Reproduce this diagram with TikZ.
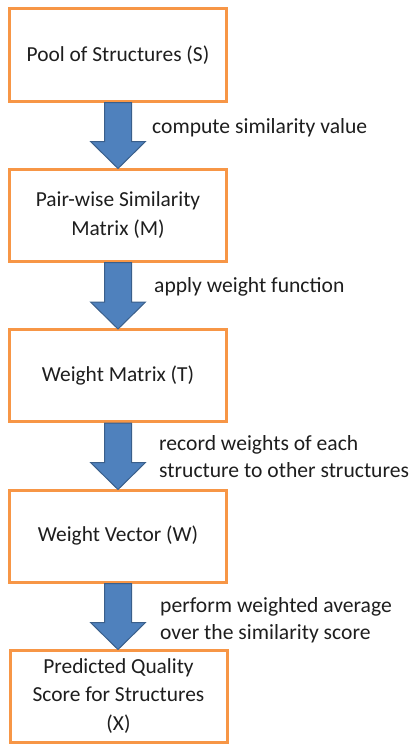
\documentclass[tikz,border=0pt]{standalone}
\usepackage{fontspec}
\setmainfont{Carlito}
\usetikzlibrary{calc}
\definecolor{boxorange}{HTML}{F79646}
\definecolor{arrblue}{HTML}{4F81BD}
\definecolor{arredge}{HTML}{3A5F8B}
\definecolor{txt}{HTML}{1E1E1E}
\newcommand\blockarr[2]{%
  \draw[blockarrow] let \p1=(#1.south), \p2=(#2.north) in
    (\x1-13.5pt,\y1) -- (\x1+13.5pt,\y1) -- (\x1+13.5pt,\y2+26pt) --
    (\x1+27.5pt,\y2+26pt) -- (\x1,\y2-1pt) -- (\x1-27.5pt,\y2+26pt) --
    (\x1-13.5pt,\y2+26pt) -- cycle;}
\begin{document}
\begin{tikzpicture}[x=1pt,y=-1pt,
  flowbox/.style={draw=boxorange, line width=3pt, fill=white,
    minimum width=217pt, minimum height=92pt, inner sep=0pt, align=center,
    text=txt, font=\fontsize{21.4}{28.5}\selectfont},
  blockarrow/.style={fill=arrblue, draw=arredge, line width=1pt, line join=miter},
  lbl/.style={anchor=west, align=left, inner sep=0pt, text=txt,
    font=\fontsize{21.6}{27}\selectfont}]
\useasboundingbox (0,0) rectangle (413,752);
\node[flowbox] (b1) at (118,55) {Pool of Structures (S)};
\node[flowbox] (b2) at (118,215) {Pair-wise Similarity\\Matrix (M)};
\node[flowbox] (b3) at (118,375.5) {Weight Matrix (T)};
\node[flowbox] (b4) at (118,536) {Weight Vector (W)};
\node[flowbox] (b5) at (118.5,696) {Predicted Quality\\Score for Structures\\(X)};
\blockarr{b1}{b2}
\blockarr{b2}{b3}
\blockarr{b3}{b4}
\blockarr{b4}{b5}
\node[lbl] (l1) at (152,128) {compute similarity value};
\node[lbl] (l2) at (154,287) {apply weight function};
\node[lbl] (l3) at (159,457) {record weights of each\\structure to other structures};
\node[lbl] (l4) at (160,620) {perform weighted average\\over the similarity score};
\end{tikzpicture}
\end{document}
